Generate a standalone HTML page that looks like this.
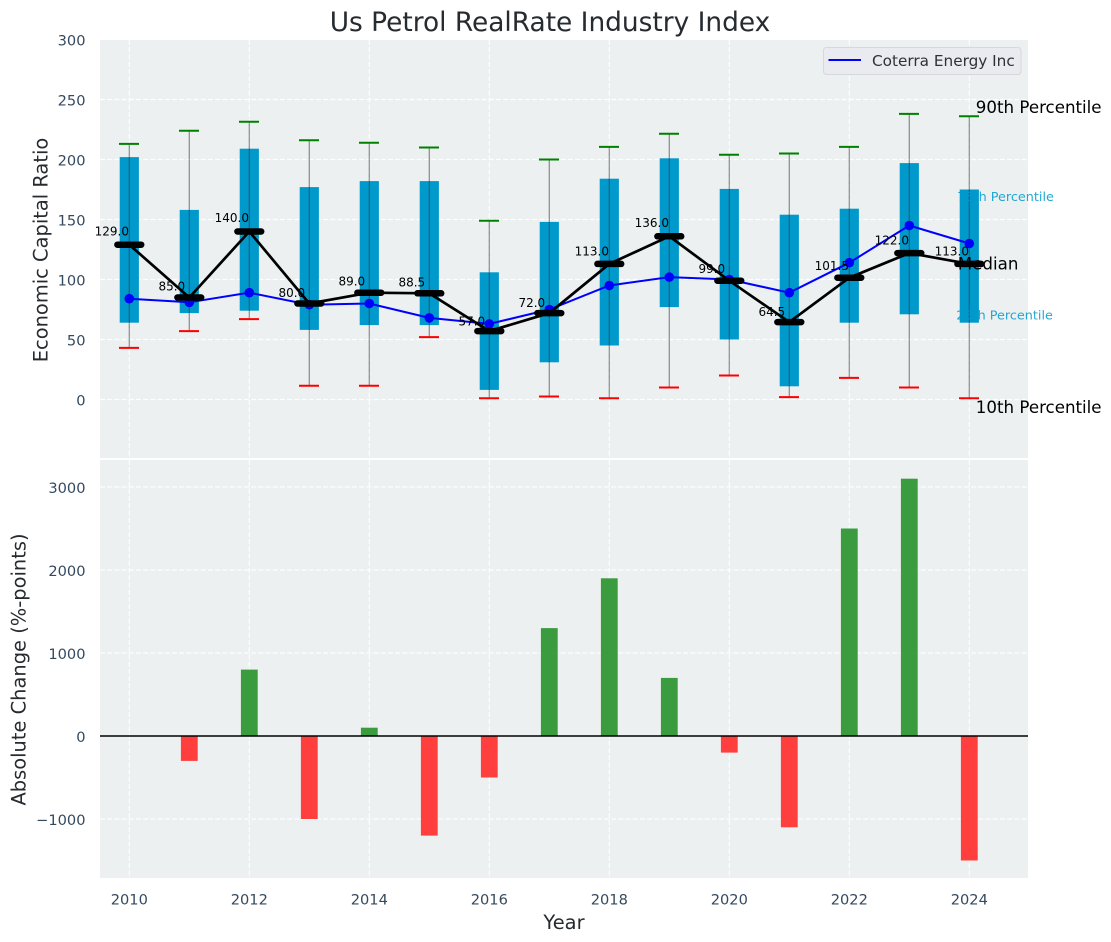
<!DOCTYPE html>
<html lang="en">
<head>
<meta charset="utf-8">
<title>Us Petrol RealRate Industry Index</title>
<style>
html,body{margin:0;padding:0;background:#fff;width:1111px;height:942px;overflow:hidden}
svg{display:block}
text{font-family:"DejaVu Sans","Liberation Sans",sans-serif}
</style>
</head>
<body>
<svg id="chart" xmlns="http://www.w3.org/2000/svg" width="1111" height="942" viewBox="0 0 1111 942"></svg>
<script>
const years = [2010,2011,2012,2013,2014,2015,2016,2017,2018,2019,2020,2021,2022,2023,2024];
const p90 = [213,224,231.5,216,214,210,149,200,210.5,221.5,204,205,210.5,238,236];
const p75 = [202,158,209,177,182,182,106,148,184,201,175.5,154,159,197,175];
const p25 = [64,72,74,58,62,62,8,31,45,77,50,11,64,71,64];
const p10 = [43,57,67,11.5,11.5,52,1,2.5,1,10,20,2,18,10,1];
const medians = [129,85,140,80,89,88.5,57,72,113,136,99,64.5,101.5,122,113];
const company = [84,81,89,79,80,68,63,75,95,102,100,89,114,145,130];
const changes = [0,-300,800,-1000,100,-1200,-500,1300,1900,700,-200,-1100,2500,3100,-1500];
const topTicks = [0,50,100,150,200,250,300];
const bottomTicks = [-1000,0,1000,2000,3000];
const xTicks = [2010,2012,2014,2016,2018,2020,2022,2024];

const NS = 'http://www.w3.org/2000/svg';
const svg = document.getElementById('chart');
const X = v => 129.3 + (v - 2010) * 60;
const YT = v => 399.5 - v * 1.2;
const YB = v => 736 - v * 0.083;
const PL = 100, PR = 1028, T1 = 40, B1 = 458, T2 = 460, B2 = 878;

function mk(tag, attrs, parent) {
  const el = document.createElementNS(NS, tag);
  for (const k in attrs) el.setAttribute(k, attrs[k]);
  (parent || svg).appendChild(el);
  return el;
}
function label(str, attrs, parent) {
  const el = mk('text', attrs, parent);
  el.textContent = str;
  return el;
}
function group(parent) {
  return mk('g', {}, parent);
}

/* Panels */
const panelTop = mk('rect', {x:PL, y:T1, width:PR-PL, height:B1-T1, fill:'#ecf0f1'});


const panelBottom = mk('rect', {x:PL, y:T2, width:PR-PL, height:B2-T2, fill:'#ecf0f1'});



/* Grid */
const gridStyle = {stroke:'#ffffff', 'stroke-width':1.2, 'stroke-dasharray':'5 2.2', 'stroke-opacity':0.9};
xTicks.forEach(t => {
  const a = mk('line', Object.assign({x1:X(t), x2:X(t), y1:T1, y2:B1}, gridStyle));
  
  
  const b = mk('line', Object.assign({x1:X(t), x2:X(t), y1:T2, y2:B2}, gridStyle));
  
  
  const tl = label(String(t), {x:X(t), y:904.5, 'text-anchor':'middle', 'font-size':14.6, fill:'#34495e'});
  
  
});
topTicks.forEach(t => {
  if (t < 300) {
    const g = mk('line', Object.assign({x1:PL, x2:PR, y1:YT(t), y2:YT(t)}, gridStyle));
    
    
  }
  const tl = label(String(t), {x:85.5, y:YT(t)+6, 'text-anchor':'end', 'font-size':14.6, fill:'#34495e'});
  
  
});
bottomTicks.forEach(t => {
  const g = mk('line', Object.assign({x1:PL, x2:PR, y1:YB(t), y2:YB(t)}, gridStyle));
  
  
  const tl = label(String(t).replace('-', '\u2212'), {x:85.5, y:YB(t)+6, 'text-anchor':'end', 'font-size':14.6, fill:'#34495e'});
  
  
});

/* Percentile boxes */
const gBoxes = group();
years.forEach((yr, i) => {
  const r = mk('rect', {x:X(yr)-9.6, y:YT(p75[i]), width:19.2, height:YT(p25[i])-YT(p75[i]), fill:'#0099cc'}, gBoxes);
  
  
});

/* Whiskers and caps */
const gWhisk = group();
years.forEach((yr, i) => {
  const w = mk('line', {x1:X(yr), x2:X(yr), y1:YT(p10[i]), y2:YT(p90[i]), stroke:'#333333', 'stroke-opacity':0.5, 'stroke-width':1.3}, gWhisk);
  
  
  const c1 = mk('line', {x1:X(yr)-10.3, x2:X(yr)+9.7, y1:YT(p90[i]), y2:YT(p90[i]), stroke:'#008000', 'stroke-width':2}, gWhisk);
  
  
  const c2 = mk('line', {x1:X(yr)-10.3, x2:X(yr)+9.7, y1:YT(p10[i]), y2:YT(p10[i]), stroke:'#ff0000', 'stroke-width':2}, gWhisk);
  
  
});

/* Company series */
const gBlue = group();
const bluePath = mk('polyline', {points:years.map((yr,i)=>X(yr)+','+YT(company[i])).join(' '), fill:'none', stroke:'#0000ff', 'stroke-width':2}, gBlue);


years.forEach((yr, i) => {
  const c = mk('circle', {cx:X(yr), cy:YT(company[i]), r:4.8, fill:'#0000ff'}, gBlue);
  
  
});

/* Median series */
const gMed = group();
const medPath = mk('polyline', {points:years.map((yr,i)=>X(yr)+','+YT(medians[i])).join(' '), fill:'none', stroke:'#000000', 'stroke-width':2.7}, gMed);


years.forEach((yr, i) => {
  const m = mk('line', {x1:X(yr)-11.9, x2:X(yr)+11.9, y1:YT(medians[i]), y2:YT(medians[i]), stroke:'#000000', 'stroke-width':6.5, 'stroke-linecap':'round'}, gMed);
  
  
  const t = label(medians[i].toFixed(1), {x:X(yr)-17.5, y:YT(medians[i]*1.04+2.33), 'text-anchor':'middle', 'font-size':12, fill:'#000000'}, gMed);
  
  
});

/* Change bars */
const gBars = group();
years.forEach((yr, i) => {
  if (changes[i] === 0) return;
  const top = Math.min(YB(changes[i]), YB(0));
  const h = Math.abs(YB(changes[i]) - YB(0));
  const b = mk('rect', {x:X(yr)-8.4, y:top, width:16.8, height:h, fill:changes[i] > 0 ? '#3a9b3f' : '#ff3e3e'}, gBars);
  
  
});
const zero = mk('line', {x1:PL, x2:PR, y1:YB(0), y2:YB(0), stroke:'#000000', 'stroke-width':1.6});



/* Percentile annotations */
const last = years.length - 1;
const annX = X(years[last]);
const a90 = label('90th Percentile', {x:annX+6.5, y:YT(p90[last])-3.5, 'font-size':16.67, fill:'#000000'});


const a75 = label('75th Percentile', {x:annX-12, y:YT(p75[last])+11.5, 'font-size':12.8, fill:'#0099cc', 'fill-opacity':0.85});


const aMed = label('Median', {x:annX-11.5, y:YT(medians[last])+5.5, 'font-size':16.67, fill:'#000000'});


const a25 = label('25th Percentile', {x:annX-13, y:YT(p25[last])-3, 'font-size':12.8, fill:'#0099cc', 'fill-opacity':0.85});


const a10 = label('10th Percentile', {x:annX+6.5, y:YT(p10[last])+14.5, 'font-size':16.67, fill:'#000000'});



/* Legend */
const gLegend = group();


const lgBox = mk('rect', {x:823.5, y:47.5, width:197.5, height:27, rx:3, ry:3, fill:'#e9ebf1', stroke:'#d6d8dc', 'stroke-width':1}, gLegend);


const lgLine = mk('line', {x1:828.5, x2:861, y1:60, y2:60, stroke:'#0000ff', 'stroke-width':2}, gLegend);


const lgText = label('Coterra Energy Inc', {x:872, y:66, 'font-size':15.28, fill:'#2e3238'}, gLegend);



/* Titles */
const title = label('Us Petrol RealRate Industry Index', {x:550, y:31, 'text-anchor':'middle', 'font-size':26.4, fill:'#262b30'});


const yt1 = label('Economic Capital Ratio', {transform:'translate(47.5,250) rotate(-90)', 'text-anchor':'middle', 'font-size':19.44, fill:'#262b30'});


const yt2 = label('Absolute Change (%-points)', {transform:'translate(25.5,669.5) rotate(-90)', 'text-anchor':'middle', 'font-size':19.44, fill:'#262b30'});


const xt = label('Year', {x:564, y:929, 'text-anchor':'middle', 'font-size':19.44, fill:'#262b30'});


</script>
</body>
</html>
